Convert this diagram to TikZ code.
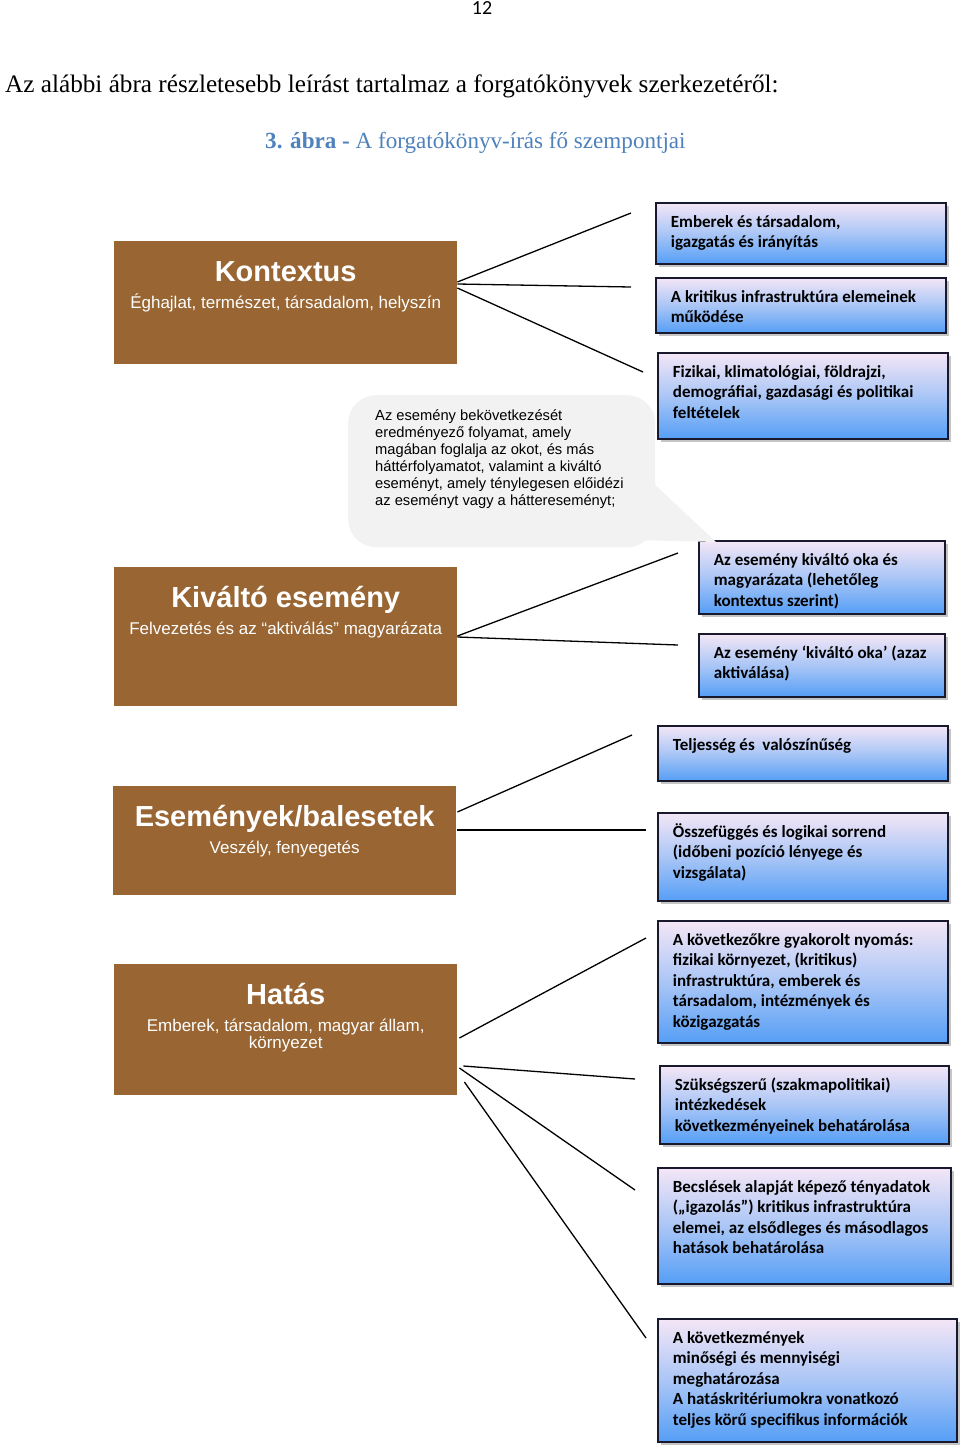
\documentclass[tikz,border=0pt]{standalone}
\usepackage{fontspec}
\setmainfont{Liberation Serif}
\newfontfamily\arialf{Liberation Sans}
\newfontfamily\calf{Carlito}
\usetikzlibrary{shadows,calc}
\definecolor{brownbox}{RGB}{152,101,51}
\definecolor{bluetop}{RGB}{244,230,246}
\definecolor{bluemid}{RGB}{170,198,246}
\definecolor{bluebot}{RGB}{85,158,246}
\definecolor{boxline}{RGB}{25,25,45}
\definecolor{capblue}{RGB}{79,129,189}
\definecolor{callgrey}{RGB}{242,242,242}
\newcommand\bxt[3]{\parbox[c][#2pt][t]{\dimexpr#1pt-30pt\relax}{\calf\bfseries\fontsize{17}{20.5}\selectfont\raggedright\lineskiplimit=-\maxdimen\rule{0pt}{24.5pt}#3}}
\newcommand\brt[3]{\parbox[c][#1pt][t]{343pt}{\centering\arialf\lineskiplimit=-\maxdimen{\fontsize{29}{29}\selectfont\bfseries\rule{0pt}{40pt}#2\par}\vspace{10pt}{\fontsize{17}{17}\selectfont #3\par}}}
\tikzset{
  bluebox/.style={draw=boxline, line width=1.8pt, top color=bluetop, bottom color=bluebot, middle color=bluemid,
    inner xsep=15pt, inner ysep=0pt, anchor=north west,
    drop shadow={shadow xshift=3pt, shadow yshift=-3pt, fill=black!45, opacity=0.5}},
  brownbox/.style={fill=brownbox, text=white, inner sep=0pt, anchor=north west},
  conn/.style={draw=black, line width=1.3pt},
  callout/.style={fill=callgrey, rounded corners=28pt, inner xsep=27pt, inner ysep=0pt, anchor=north west}
}
\begin{document}
\begin{tikzpicture}[x=1pt,y=-1pt]
\fill[white] (0,0) rectangle (960,1446);
\useasboundingbox (0,0) rectangle (960,1446);

\node[anchor=base, inner sep=0] (pnum) at (482,14) {\calf\fontsize{20}{20}\selectfont 12};
\node[anchor=base west, inner sep=0] (intro) at (5,92) {\fontsize{25.2}{25.2}\selectfont Az alábbi ábra részletesebb leírást tartalmaz a forgatókönyvek szerkezetéről:};
\node[anchor=base west, inner sep=0, text=capblue] (caption) at (265,148) {\fontsize{23.1}{23.1}\selectfont\textbf{3. ábra -} A forgatókönyv-írás fő szempontjai};

% brown boxes
\node[brownbox] (kontextus) at (114,241) {\brt{123}{Kontextus}{Éghajlat, természet, társadalom, helyszín}};
\node[brownbox] (kivalto) at (114,567) {\brt{139}{Kiváltó esemény}{Felvezetés és az “aktiválás” magyarázata}};
\node[brownbox] (esemenyek) at (113,786) {\brt{109}{Események/balesetek}{Veszély, fenyegetés}};
\node[brownbox] (hatas) at (114,964) {\brt{131}{Hatás}{Emberek, társadalom, magyar állam,\\ környezet}};

% blue boxes
\node[bluebox] (b1) at (655,202) {\bxt{290}{61}{Emberek és társadalom,\\ igazgatás és irányítás}};
\node[bluebox] (b2) at (655,277) {\bxt{290}{55}{A kritikus infrastruktúra elemeinek\\ működése}};
\node[bluebox] (b3) at (657,352) {\bxt{290}{86}{Fizikai, klimatológiai, földrajzi,\\ demográfiai, gazdasági és politikai\\ feltételek}};
\node[bluebox] (b4) at (698,540) {\bxt{246}{73}{Az esemény kiváltó oka és\\ magyarázata (lehetőleg\\ kontextus szerint)}};
\node[bluebox] (b5) at (698,633) {\bxt{246}{63}{Az esemény ‘kiváltó oka’ (azaz\\ aktiválása)}};
\node[bluebox] (b6) at (657,725) {\bxt{290}{55}{Teljesség és\ \ valószínűség}};
\node[bluebox] (b7) at (657,812) {\bxt{290}{88}{Összefüggés és logikai sorrend\\ (időbeni pozíció lényege és\\ vizsgálata)}};
\node[bluebox] (b8) at (657,920) {\bxt{290}{122}{A következőkre gyakorolt nyomás:\\ fizikai környezet, (kritikus)\\ infrastruktúra, emberek és\\ társadalom, intézmények és\\ közigazgatás}};
\node[bluebox] (b9) at (659,1065) {\bxt{289}{78}{Szükségszerű (szakmapolitikai)\\ intézkedések\\ következményeinek behatárolása}};
\node[bluebox] (b10) at (657,1167) {\bxt{293}{116}{Becslések alapját képező tényadatok\\ („igazolás”) kritikus infrastruktúra\\ elemei, az elsődleges és másodlagos\\ hatások behatárolása}};
\node[bluebox] (b11) at (657,1318) {\bxt{299}{123}{A következmények\\ minőségi és mennyiségi\\ meghatározása\\ A hatáskritériumokra vonatkozó\\ teljes körű specifikus információk}};

% callout
\fill[callgrey] (652,482) -- (716,542) -- (635,540) -- cycle;
\node[callout] (note) at (348,395) {\parbox[c][152pt][t]{253pt}{\arialf\fontsize{14.7}{17}\selectfont\raggedright\lineskiplimit=-\maxdimen\rule{0pt}{25pt}Az esemény bekövetkezését\\ eredményező folyamat, amely\\ magában foglalja az okot, és más\\ háttérfolyamatot, valamint a kiváltó\\ eseményt, amely ténylegesen előidézi\\ az eseményt vagy a háttereseményt;}};

% free ends of connectors
\coordinate (k1) at (631,213);
\coordinate (k2) at (631,287);
\coordinate (k3) at (643,372);
\coordinate (v1) at (678,553);
\coordinate (v2) at (678,645);
\coordinate (e1) at (632,735);
\coordinate (e2) at (646,830);
\coordinate (h1) at (646,938);
\coordinate (h2) at (635,1079);
\coordinate (h3) at (635,1190);
\coordinate (h4) at (646,1338);

\draw[conn] ($(kontextus.north east)+(0,41)$) -- (k1);
\draw[conn] ($(kontextus.north east)+(0,43)$) -- (k2);
\draw[conn] ($(kontextus.north east)+(0,47)$) -- (k3);
\draw[conn] ($(kivalto.north east)+(0,69)$) -- (v1);
\draw[conn] ($(kivalto.north east)+(0,70)$) -- (v2);
\draw[conn] ($(esemenyek.north east)+(1,26)$) -- (e1);
\draw[conn] ($(esemenyek.north east)+(1,44)$) -- (e2);
\draw[conn] ($(hatas.north east)+(2,74)$) -- (h1);
\draw[conn] ($(hatas.north east)+(6,102)$) -- (h2);
\draw[conn] ($(hatas.north east)+(2,104)$) -- (h3);
\draw[conn] ($(hatas.north east)+(7,118)$) -- (h4);
\end{tikzpicture}
\end{document}
